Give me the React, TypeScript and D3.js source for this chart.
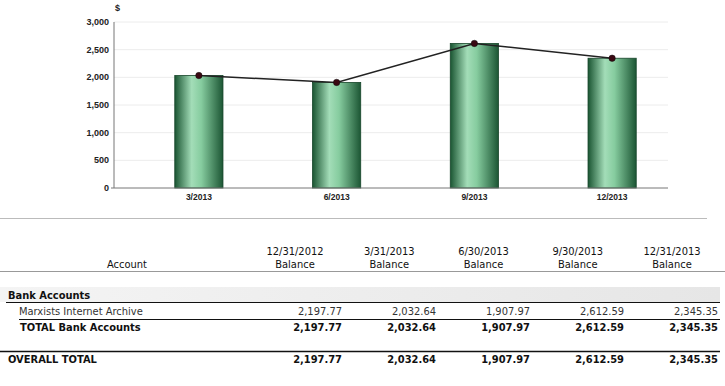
import { useEffect, useRef } from 'react'
import * as d3 from 'd3'

const quarters = ['3/2013', '6/2013', '9/2013', '12/2013']
const balances = [2032.64, 1907.97, 2612.59, 2345.35]
const yTicks = [0, 500, 1000, 1500, 2000, 2500, 3000]

const colDates = ['12/31/2012', '3/31/2013', '6/30/2013', '9/30/2013', '12/31/2013']
const archiveRow = [2197.77, 2032.64, 1907.97, 2612.59, 2345.35]
const bankTotalRow = [2197.77, 2032.64, 1907.97, 2612.59, 2345.35]
const overallRow = [2197.77, 2032.64, 1907.97, 2612.59, 2345.35]

const CHART_FONT = 'Liberation Sans, Arial, sans-serif'
const TABLE_FONT = 'DejaVu Sans Condensed, DejaVu Sans, sans-serif'

export default function App() {
  const svgRef = useRef<SVGSVGElement>(null)

  useEffect(() => {
    if (!svgRef.current) return
    const svg = d3.select(svgRef.current)
    svg.selectAll('*').remove()

    const W = 725, H = 386

    const defs = svg.append('defs')
    const grad = defs.append('linearGradient').attr('id', 'barGrad')
      .attr('x1', '0%').attr('x2', '100%').attr('y1', '0%').attr('y2', '0%')
    grad.append('stop').attr('offset', '0%').attr('stop-color', '#1a5532')
    grad.append('stop').attr('offset', '35%').attr('stop-color', '#a3ddb8')
    grad.append('stop').attr('offset', '55%').attr('stop-color', '#86cc9f')
    grad.append('stop').attr('offset', '100%').attr('stop-color', '#1c5634')

    const band = defs.append('linearGradient').attr('id', 'bandGrad')
      .attr('x1', '0%').attr('x2', '100%')
    band.append('stop').attr('offset', '0%').attr('stop-color', '#f4f4f4')
    band.append('stop').attr('offset', '100%').attr('stop-color', '#e6e6e6')

    // chart
    const x = d3.scaleBand<string>().domain(quarters).range([130, 681])
      .paddingInner(0.65).paddingOuter(0.325)
    const y = d3.scaleLinear().domain([0, 3000]).range([188, 22])
    const axisLeft = 114, axisRight = 668

    const g = svg.append('g')

    // grid
    g.selectAll('line.grid').data(yTicks.filter(t => t > 0)).enter().append('line')
      .attr('x1', axisLeft).attr('x2', axisRight)
      .attr('y1', d => y(d)).attr('y2', d => y(d))
      .attr('stroke', '#ececec').attr('stroke-width', 1)

    // y tick labels
    g.selectAll('text.ytick').data(yTicks).enter().append('text')
      .attr('x', 109).attr('y', d => y(d) + 3)
      .attr('text-anchor', 'end').attr('font-family', CHART_FONT)
      .attr('font-size', 9).attr('font-weight', 'bold').attr('fill', '#222')
      .text(d => d3.format(',')(d))

    g.append('text').attr('x', 115).attr('y', 11)
      .attr('font-family', CHART_FONT).attr('font-size', 9).attr('font-weight', 'bold')
      .attr('fill', '#222').text('$')

    // bars
    g.selectAll('rect.bar').data(balances).enter().append('rect')
      .attr('x', (_, i) => x(quarters[i])!)
      .attr('y', d => y(d))
      .attr('width', x.bandwidth())
      .attr('height', d => y(0) - y(d))
      .attr('fill', 'url(#barGrad)')
      .attr('stroke', '#17452a').attr('stroke-width', 0.8)

    // axes lines
    g.append('line').attr('x1', axisLeft).attr('x2', axisLeft)
      .attr('y1', y(3000)).attr('y2', y(0)).attr('stroke', '#777').attr('stroke-width', 1)
    g.append('line').attr('x1', axisLeft - 3).attr('x2', axisRight)
      .attr('y1', y(0)).attr('y2', y(0)).attr('stroke', '#777').attr('stroke-width', 1)

    // x labels
    g.selectAll('text.xtick').data(quarters).enter().append('text')
      .attr('x', d => x(d)! + x.bandwidth() / 2).attr('y', 200)
      .attr('text-anchor', 'middle').attr('font-family', CHART_FONT)
      .attr('font-size', 8.5).attr('font-weight', 'bold').attr('fill', '#222')
      .text(d => d)

    // line + markers
    const line = d3.line<number>()
      .x((_, i) => x(quarters[i])! + x.bandwidth() / 2)
      .y(d => y(d))
    g.append('path').datum(balances).attr('d', line)
      .attr('fill', 'none').attr('stroke', '#222').attr('stroke-width', 1.5)
    g.selectAll('circle.pt').data(balances).enter().append('circle')
      .attr('cx', (_, i) => x(quarters[i])! + x.bandwidth() / 2)
      .attr('cy', d => y(d)).attr('r', 3.2)
      .attr('fill', '#3a0812').attr('stroke', '#111').attr('stroke-width', 0.5)

    // separator
    svg.append('line').attr('x1', 0).attr('x2', 707).attr('y1', 218.5).attr('y2', 218.5)
      .attr('stroke', '#bbb').attr('stroke-width', 1)

    // table background + rules
    svg.append('rect').attr('x', 0).attr('y', 287).attr('width', 720).attr('height', 15)
      .attr('fill', 'url(#bandGrad)')
    svg.append('line').attr('x1', 0).attr('x2', 725).attr('y1', 271.5).attr('y2', 271.5)
      .attr('stroke', '#999').attr('stroke-width', 1)
    svg.append('line').attr('x1', 6).attr('x2', 720).attr('y1', 302.5).attr('y2', 302.5)
      .attr('stroke', '#111').attr('stroke-width', 1.2)
    svg.append('line').attr('x1', 19).attr('x2', 720).attr('y1', 319.5).attr('y2', 319.5)
      .attr('stroke', '#111').attr('stroke-width', 1)
    svg.append('line').attr('x1', 0).attr('x2', 720).attr('y1', 351.5).attr('y2', 351.5)
      .attr('stroke', '#111').attr('stroke-width', 1.6)

    // table text
    const t = svg.append('g').attr('font-family', TABLE_FONT).attr('fill', '#111')
    const headCenters = d3.scalePoint<string>().domain(colDates).range([295, 672])
    const valueRight = d3.scalePoint<string>().domain(colDates).range([342, 718])
    const fmt = d3.format(',.2f')

    t.append('text').attr('x', 127).attr('y', 268).attr('text-anchor', 'middle')
      .attr('font-size', 11).text('Account')
    colDates.forEach(c => {
      t.append('text').attr('x', headCenters(c)!).attr('y', 255).attr('text-anchor', 'middle')
        .attr('font-size', 11).text(c)
      t.append('text').attr('x', headCenters(c)!).attr('y', 268).attr('text-anchor', 'middle')
        .attr('font-size', 11).text('Balance')
    })

    t.append('text').attr('x', 8).attr('y', 299).attr('font-size', 11).attr('font-weight', 'bold')
      .text('Bank Accounts')

    t.append('text').attr('x', 19).attr('y', 315).attr('font-size', 11).attr('fill', '#333')
      .text('Marxists Internet Archive')
    archiveRow.forEach((v, i) => {
      t.append('text').attr('x', valueRight(colDates[i])!).attr('y', 315)
        .attr('text-anchor', 'end').attr('font-size', 11).attr('fill', '#333').text(fmt(v))
    })

    t.append('text').attr('x', 20).attr('y', 331).attr('font-size', 11).attr('font-weight', 'bold')
      .text('TOTAL Bank Accounts')
    bankTotalRow.forEach((v, i) => {
      t.append('text').attr('x', valueRight(colDates[i])!).attr('y', 331)
        .attr('text-anchor', 'end').attr('font-size', 11).attr('font-weight', 'bold').text(fmt(v))
    })

    t.append('text').attr('x', 8).attr('y', 363).attr('font-size', 11).attr('font-weight', 'bold')
      .text('OVERALL TOTAL')
    overallRow.forEach((v, i) => {
      t.append('text').attr('x', valueRight(colDates[i])!).attr('y', 363)
        .attr('text-anchor', 'end').attr('font-size', 11).attr('font-weight', 'bold').text(fmt(v))
    })

    svg.attr('width', W).attr('height', H)
  }, [])

  return (
    <div style={{ position: 'absolute', left: 0, top: 0, background: '#fff' }}>
      <svg ref={svgRef} width={725} height={386} style={{ display: 'block' }} />
    </div>
  )
}
